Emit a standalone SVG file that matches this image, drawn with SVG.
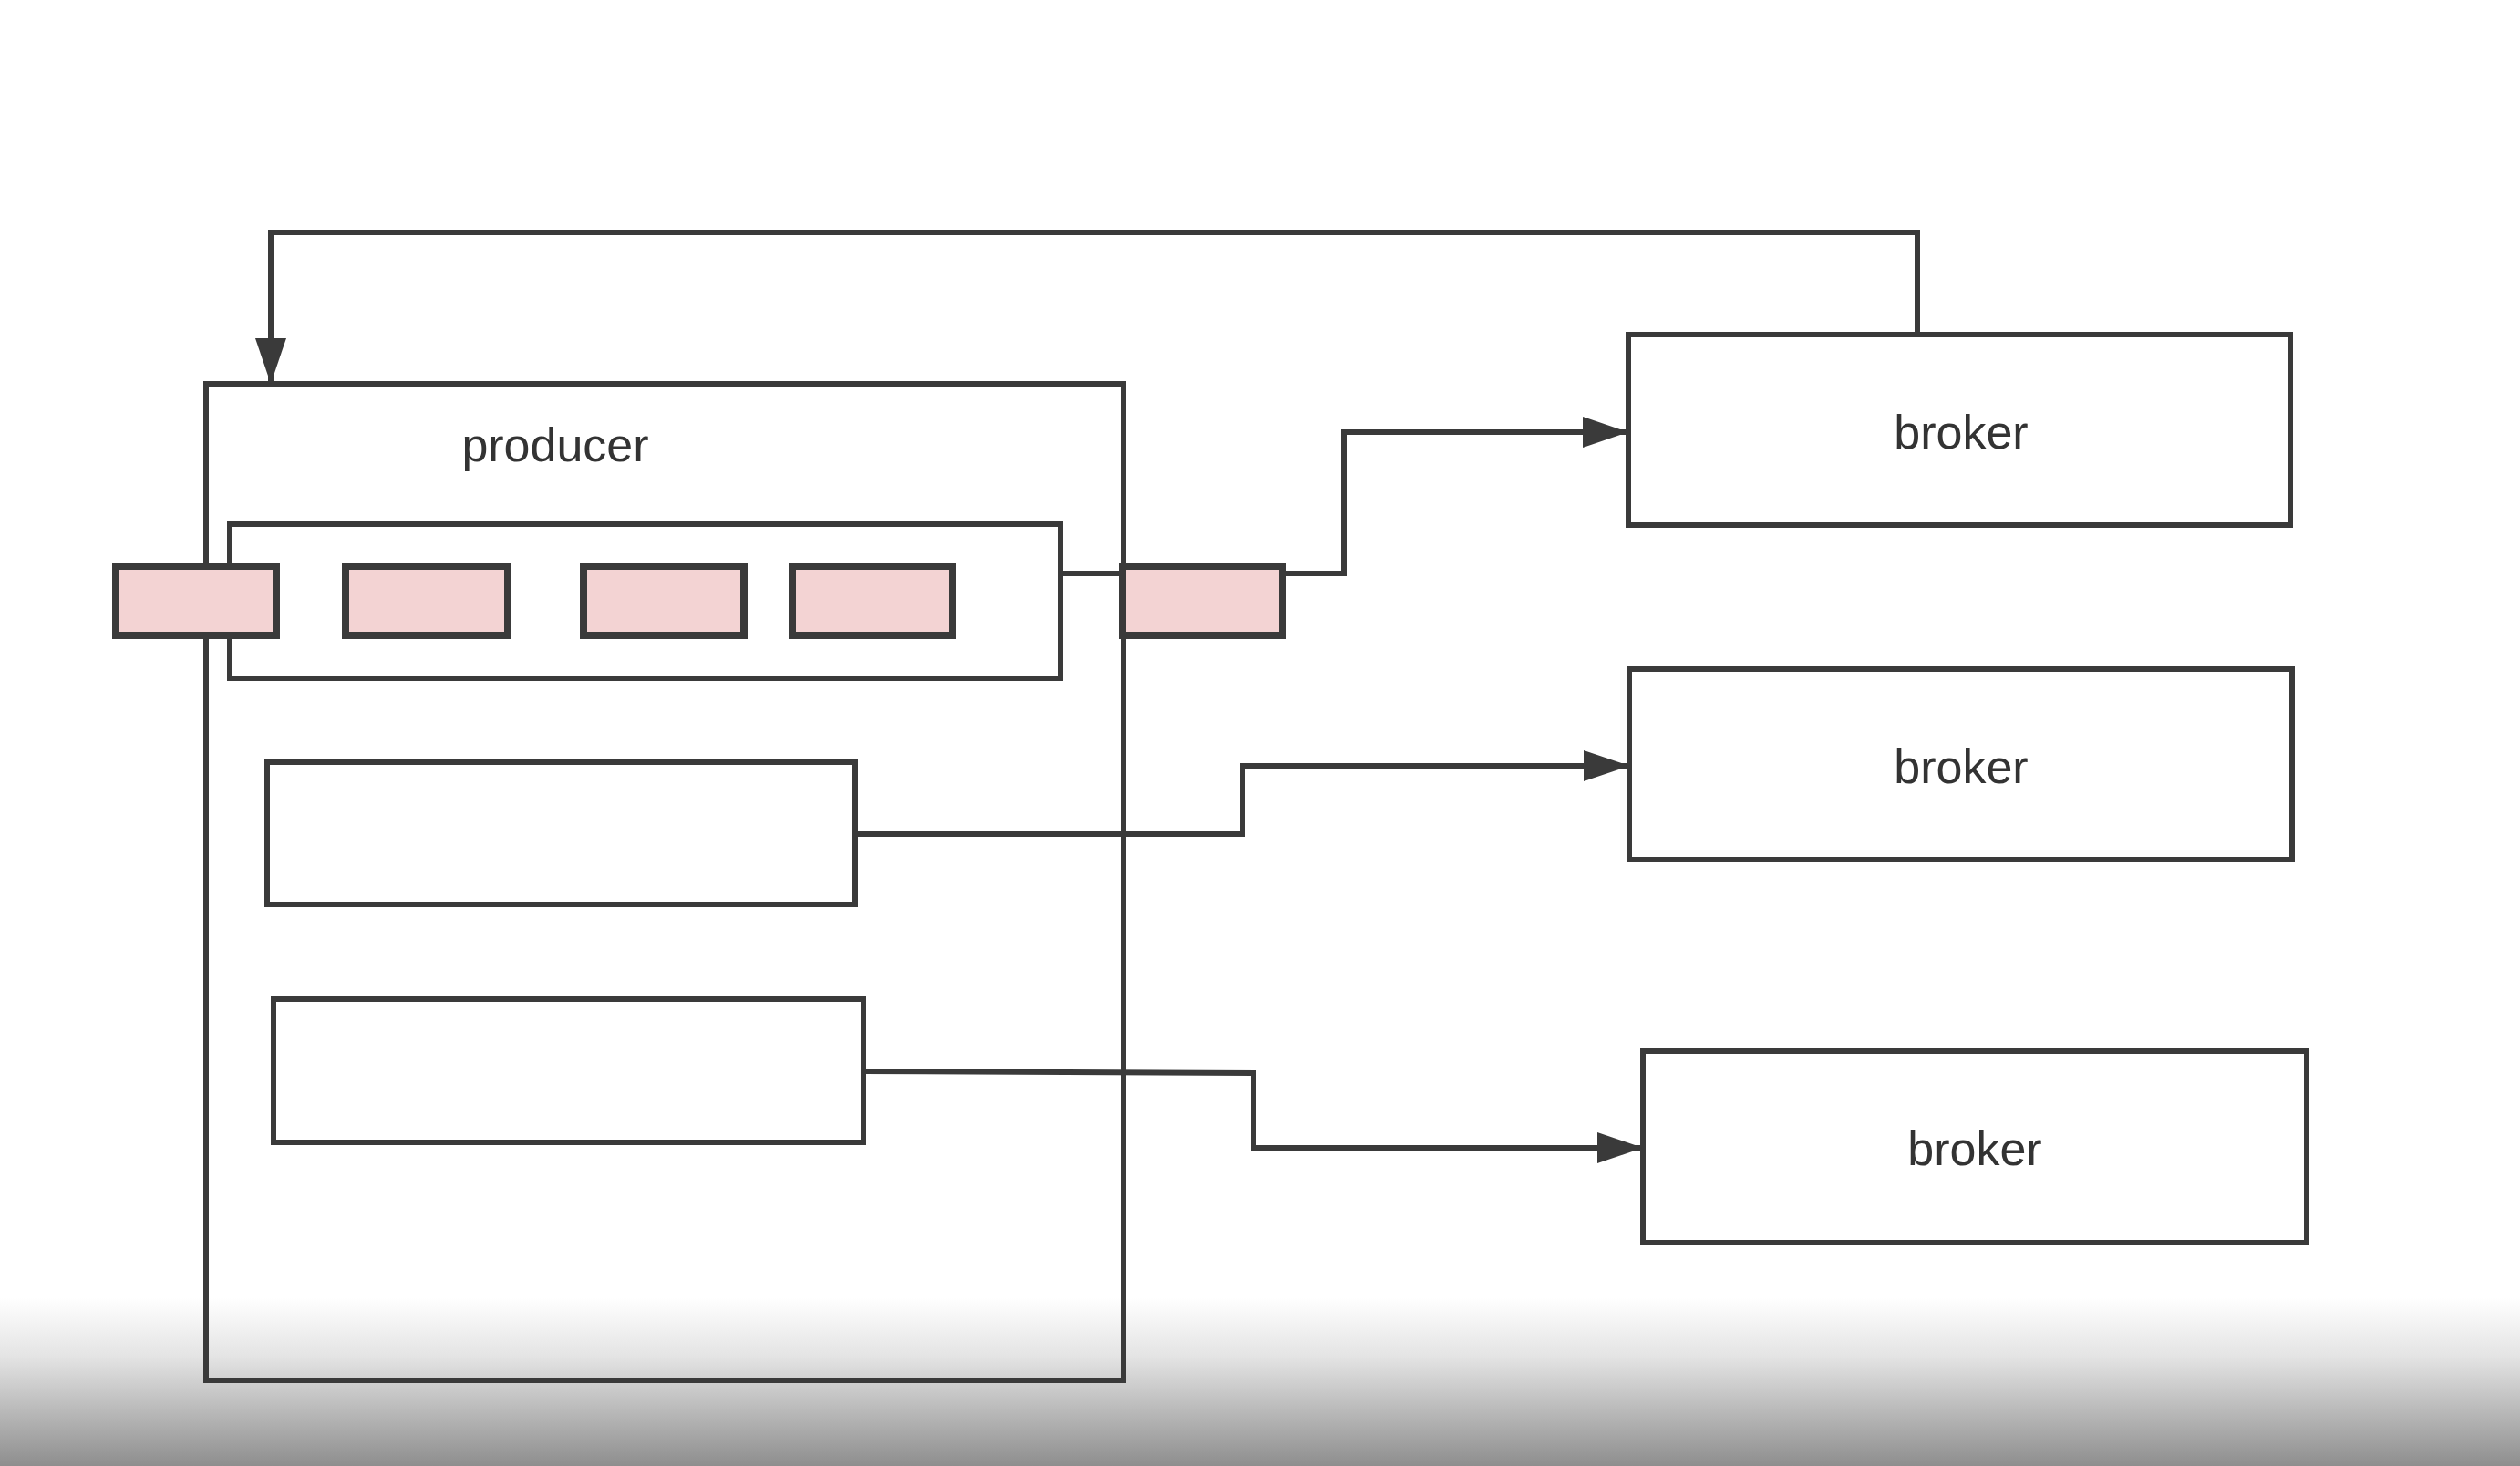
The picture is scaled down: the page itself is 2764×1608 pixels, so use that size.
<svg xmlns="http://www.w3.org/2000/svg" width="2764" height="1608" viewBox="0 0 2764 1608">
<defs>
<linearGradient id="bg" x1="0" y1="0" x2="0" y2="1608" gradientUnits="userSpaceOnUse">
<stop offset="0" stop-color="#ffffff"/>
<stop offset="0.885" stop-color="#ffffff"/>
<stop offset="0.925" stop-color="#e4e4e4"/>
<stop offset="1" stop-color="#8e8e8e"/>
</linearGradient>
<marker id="arrow" markerUnits="userSpaceOnUse" markerWidth="52" markerHeight="34" refX="50" refY="17" orient="auto">
<path d="M0,0 L50,17 L0,34 Z" fill="#3a3a3a"/>
</marker>
<style>
.box{fill:none;stroke:#3a3a3a;stroke-width:6}
.msg{fill:#f3d3d3;stroke:#3a3a3a;stroke-width:8}
.conn{fill:none;stroke:#3a3a3a;stroke-width:6}
.lbl{font-family:"Liberation Sans",Arial,sans-serif;font-size:52px;fill:#333333;text-anchor:middle}
</style>
</defs>
<rect x="0" y="0" width="2764" height="1608" fill="url(#bg)"/>
<g id="producer">
<rect class="box" x="226" y="421" width="1006" height="1093"/>
<text class="lbl" x="609" y="506">producer</text>
</g>
<g id="queue">
<rect class="box" x="252" y="575" width="911" height="169"/>
</g>
<g id="slot1">
<rect class="box" x="293" y="836" width="645" height="156"/>
</g>
<g id="slot2">
<rect class="box" x="300" y="1096" width="647" height="157"/>
</g>
<g id="broker1">
<rect class="box" x="1786" y="367" width="726" height="209"/>
<text class="lbl" x="2151" y="492">broker</text>
</g>
<g id="broker2">
<rect class="box" x="1787" y="734" width="727" height="209"/>
<text class="lbl" x="2151" y="859">broker</text>
</g>
<g id="broker3">
<rect class="box" x="1802" y="1153" width="728" height="210"/>
<text class="lbl" x="2166" y="1278">broker</text>
</g>
<g id="connectors">
<path class="conn" d="M2103,367 L2103,255 L297,255 L297,421" marker-end="url(#arrow)"/>
<path class="conn" d="M1163,629 L1231,629"/>
<path class="conn" d="M1407,629 L1474,629 L1474,474 L1786,474" marker-end="url(#arrow)"/>
<path class="conn" d="M938,915 L1363,915 L1363,840 L1787,840" marker-end="url(#arrow)"/>
<path class="conn" d="M947,1175 L1375,1177 L1375,1259 L1802,1259" marker-end="url(#arrow)"/>
</g>
<g id="messages">
<rect class="msg" x="127" y="621" width="176" height="76"/>
<rect class="msg" x="379" y="621" width="178" height="76"/>
<rect class="msg" x="640" y="621" width="176" height="76"/>
<rect class="msg" x="869" y="621" width="176" height="76"/>
<rect class="msg" x="1231" y="621" width="176" height="76"/>
</g>
</svg>
